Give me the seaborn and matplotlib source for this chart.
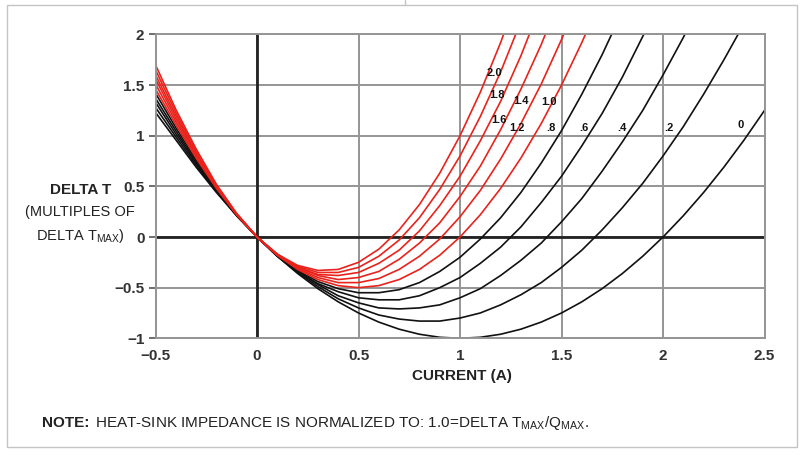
import pandas as pd
import matplotlib
matplotlib.use("Agg")
import matplotlib.pyplot as plt
import seaborn as sns
from matplotlib.patches import Rectangle
from matplotlib.lines import Line2D

# current axis (A), shared by every curve
current = [-0.5, -0.4, -0.3, -0.2, -0.1, 0.0, 0.1, 0.2, 0.3, 0.4, 0.5,
           0.6, 0.7, 0.8, 0.9, 1.0, 1.1, 1.2, 1.3, 1.4, 1.5,
           1.6, 1.7, 1.8, 1.9, 2.0, 2.1, 2.2, 2.3, 2.4, 2.5]

# delta T, one list per heat-sink impedance
dt_00 = [1.23, 0.96, 0.69, 0.44, 0.21, 0.0, -0.19, -0.36, -0.51, -0.64, -0.75,
         -0.84, -0.91, -0.96, -0.99, -1.00, -0.99, -0.96, -0.91, -0.84, -0.75,
         -0.64, -0.51, -0.36, -0.19, 0.0, 0.21, 0.44, 0.69, 0.96, 1.25]
dt_02 = [1.28, 0.99, 0.71, 0.45, 0.21, 0.0, -0.19, -0.35, -0.49, -0.61, -0.70,
         -0.77, -0.81, -0.83, -0.83, -0.80, -0.75, -0.67, -0.57, -0.45, -0.30,
         -0.13, 0.07, 0.29, 0.53, 0.80, 1.09, 1.41, 1.75, 2.11]
dt_04 = [1.33, 1.02, 0.73, 0.46, 0.21, 0.0, -0.19, -0.34, -0.47, -0.58, -0.65,
         -0.70, -0.71, -0.70, -0.67, -0.60, -0.51, -0.38, -0.23, -0.06, 0.15,
         0.38, 0.65, 0.94, 1.25, 1.60, 1.97, 2.38]
dt_06 = [1.37, 1.05, 0.74, 0.46, 0.22, 0.0, -0.18, -0.34, -0.46, -0.54, -0.60,
         -0.62, -0.62, -0.58, -0.50, -0.40, -0.26, -0.10, 0.10, 0.34, 0.60,
         0.90, 1.22, 1.58, 1.98, 2.40]
dt_08 = [1.42, 1.08, 0.76, 0.47, 0.22, 0.0, -0.18, -0.33, -0.44, -0.51, -0.55,
         -0.55, -0.52, -0.45, -0.34, -0.20, -0.02, 0.19, 0.44, 0.73, 1.05,
         1.41, 1.80, 2.23]
dt_10 = [1.46, 1.11, 0.78, 0.48, 0.22, 0.0, -0.18, -0.32, -0.42, -0.48, -0.50,
         -0.48, -0.42, -0.32, -0.18, 0.0, 0.22, 0.48, 0.78, 1.12, 1.50,
         1.92, 2.38]
dt_12 = [1.51, 1.14, 0.80, 0.49, 0.22, 0.0, -0.18, -0.31, -0.40, -0.45, -0.45,
         -0.41, -0.32, -0.19, -0.02, 0.20, 0.46, 0.77, 1.12, 1.51, 1.95, 2.43]
dt_14 = [1.56, 1.17, 0.82, 0.50, 0.22, 0.0, -0.18, -0.30, -0.38, -0.42, -0.40,
         -0.34, -0.22, -0.06, 0.14, 0.40, 0.70, 1.06, 1.46, 1.90, 2.40]
dt_16 = [1.60, 1.20, 0.83, 0.50, 0.23, 0.0, -0.17, -0.30, -0.37, -0.38, -0.35,
         -0.26, -0.13, 0.06, 0.31, 0.60, 0.95, 1.34, 1.79, 2.30]
dt_18 = [1.65, 1.23, 0.85, 0.51, 0.23, 0.0, -0.17, -0.29, -0.35, -0.35, -0.30,
         -0.19, -0.03, 0.19, 0.47, 0.80, 1.19, 1.63, 2.13]
dt_20 = [1.70, 1.26, 0.87, 0.52, 0.23, 0.0, -0.17, -0.28, -0.33, -0.32, -0.25,
         -0.12, 0.07, 0.32, 0.63, 1.00, 1.43, 1.92, 2.47]

impedance = ["0", ".2", ".4", ".6", ".8", "1.0", "1.2", "1.4", "1.6", "1.8", "2.0"]
series = [dt_00, dt_02, dt_04, dt_06, dt_08, dt_10, dt_12, dt_14, dt_16, dt_18, dt_20]

rows = []
for name, vals in zip(impedance, series):
    for x, y in zip(current, vals):
        rows.append({"current": x, "delta_t": y, "impedance": name})
df = pd.DataFrame(rows)

# black below 1.0, red from 1.0 up
palette = {name: ("#e8231c" if i >= 5 else "#111111") for i, name in enumerate(impedance)}

sns.set_style("white")
plt.rcParams["font.family"] = ["Liberation Sans", "DejaVu Sans"]

fig = plt.figure(figsize=(8.05, 4.55), dpi=100)
ax = fig.add_axes([0.1932, 0.2565, 0.7565, 0.6677])

sns.lineplot(data=df, x="current", y="delta_t", hue="impedance",
             hue_order=impedance, palette=palette, estimator=None,
             sort=False, legend=False, linewidth=1.2, ax=ax)

ax.set_xlim(-0.5, 2.5)
ax.set_ylim(-1, 2)
ax.set_xticks([-0.5, 0, 0.5, 1, 1.5, 2, 2.5])
ax.set_xticklabels(["\u22120.5", "0", "0.5", "1", "1.5", "2", "2.5"])
ax.set_yticks([-1, -0.5, 0, 0.5, 1, 1.5, 2])
ax.set_yticklabels(["\u22121", "\u22120.5", "0", "0.5", "1", "1.5", "2"])
ax.grid(True, color="#959595", linewidth=1.4, zorder=0)
ax.set_axisbelow(True)
ax.axhline(0, color="#222222", linewidth=2, zorder=1)
ax.axvline(0, color="#222222", linewidth=2, zorder=1)
for s in ax.spines.values():
    s.set_color("#959595")
    s.set_linewidth(1.4)
ax.tick_params(axis="y", left=True, length=5, width=1.2, color="#555555",
               labelsize=11, labelcolor="#333333", pad=3)
ax.tick_params(axis="x", bottom=False, labelsize=11, labelcolor="#333333", pad=4)
for lab in ax.get_xticklabels() + ax.get_yticklabels():
    lab.set_fontweight("bold")
ax.set_xlabel("")
ax.set_ylabel("")

# curve labels
label_pos = {"2.0": (1.17, 1.62), "1.8": (1.18, 1.40), "1.4": (1.30, 1.34),
             "1.6": (1.19, 1.16), "1.0": (1.44, 1.33), "1.2": (1.28, 1.08),
             ".8": (1.45, 1.08), ".6": (1.61, 1.08), ".4": (1.80, 1.08),
             ".2": (2.03, 1.08), "0": (2.38, 1.11)}
for name, (lx, ly) in label_pos.items():
    ax.text(lx, ly, name, fontsize=8, fontweight="bold", color="#111111",
            ha="center", va="center", zorder=5)

# axis titles
fig.text(462 / 805, 1 - 376 / 455, "CURRENT (A)", fontsize=11, fontweight="bold",
         color="#222222", ha="center", va="center")
fig.text(81 / 805, 1 - 190 / 455, "DELTA T", fontsize=11, fontweight="bold",
         color="#222222", ha="center", va="center")
fig.text(80 / 805, 1 - 212 / 455, "(MULTIPLES OF", fontsize=10.5, color="#222222",
         ha="center", va="center")
fig.text(80 / 805, 1 - 236 / 455, r"DELTA T$_{\mathregular{MAX}}$)", fontsize=10.5,
         color="#222222", ha="center", va="center")

# note
fig.text(42 / 805, 1 - 423 / 455, "NOTE:", fontsize=11, fontweight="bold",
         color="#222222", ha="left", va="center")
fig.text(95 / 805, 1 - 423 / 455,
         r"HEAT-SINK IMPEDANCE IS NORMALIZED TO: 1.0=DELTA T$_{\mathregular{MAX}}$/Q$_{\mathregular{MAX}}$.",
         fontsize=11, color="#222222", ha="left", va="center")

# outer frame
fig.add_artist(Rectangle((7 / 805, 1 - 447 / 455), 790 / 805, 442 / 455,
                         transform=fig.transFigure, fill=False,
                         edgecolor="#c4c4c4", linewidth=1))
fig.add_artist(Line2D([405 / 805, 405 / 805], [1 - 5 / 455, 1.0],
                      transform=fig.transFigure, color="#c4c4c4", linewidth=1))

fig.savefig("out.png", dpi=100)
